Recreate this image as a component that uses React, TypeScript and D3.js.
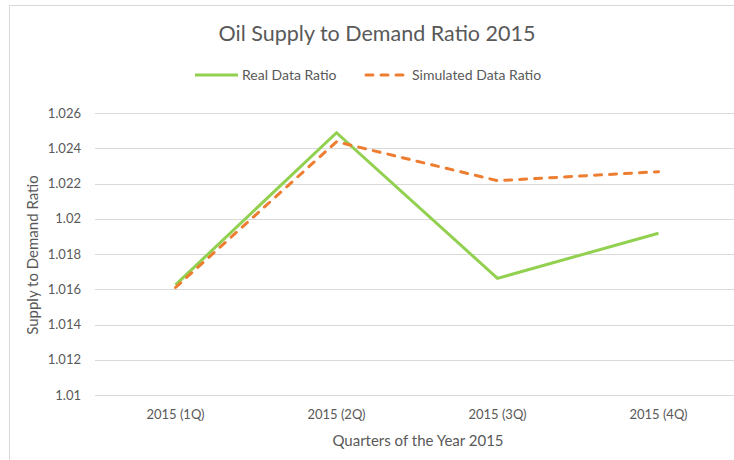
import React from 'react';
import * as d3 from 'd3';

const quarters = ['2015 (1Q)', '2015 (2Q)', '2015 (3Q)', '2015 (4Q)'];
const realRatio = [1.01625, 1.02488, 1.01662, 1.01918];
const simulatedRatio = [1.0161, 1.02437, 1.02216, 1.02267];
const yTicks = [1.01, 1.012, 1.014, 1.016, 1.018, 1.02, 1.022, 1.024, 1.026];
const yTickLabels = ['1.01', '1.012', '1.014', '1.016', '1.018', '1.02', '1.022', '1.024', '1.026'];

const W = 734;
const H = 460;
const font = 'Lato, "Open Sans", sans-serif';
const textColor = '#595959';
const green = '#92d050';
const orange = '#ed7d31';

const App = () => {
    // plot area: the right edge runs past the picture, like the original crop
    const x = d3.scalePoint<string>().domain(quarters).range([95, 739]).padding(0.5);
    const y = d3.scaleLinear().domain([1.01, 1.026]).range([395, 113]);

    const line = d3.line<number>()
        .x((d, i) => x(quarters[i]) as number)
        .y(d => y(d));

    return (
        <svg width={W} height={H} style={{position: 'absolute', left: 0, top: 0}} fontFamily={font}>
            <rect x={0} y={0} width={W} height={H} fill="#fff"/>
            {/* chart frame */}
            <path d={`M9.5,${H} V5.5 H${W}`} fill="none" stroke="#d9d9d9" strokeWidth={1}/>

            <text x={377} y={41} textAnchor="middle" fontSize={21.5} fill={textColor}>
                Oil Supply to Demand Ratio 2015
            </text>

            {/* legend */}
            <line x1={195} x2={238} y1={75} y2={75} stroke={green} strokeWidth={3}/>
            <text x={242} y={80} fontSize={14} fill={textColor}>Real Data Ratio</text>
            <line x1={366} x2={404} y1={75} y2={75} stroke={orange} strokeWidth={3}
                  strokeDasharray="7 8" strokeLinecap="round"/>
            <text x={412} y={80} fontSize={14} fill={textColor}>Simulated Data Ratio</text>

            {/* grid + y labels */}
            {yTicks.map((t, i) => (
                <g key={t}>
                    <line x1={95} x2={W} y1={Math.round(y(t)) + 0.5} y2={Math.round(y(t)) + 0.5}
                          stroke="#d9d9d9" strokeWidth={1}/>
                    <text x={81} y={y(t) + 4.5} textAnchor="end" fontSize={13} fill={textColor}>
                        {yTickLabels[i]}
                    </text>
                </g>
            ))}

            {/* x labels */}
            {quarters.map(q => (
                <text key={q} x={x(q)} y={419} textAnchor="middle" fontSize={13} fill={textColor}>{q}</text>
            ))}

            <text x={418} y={446} textAnchor="middle" fontSize={15} fill={textColor}>
                Quarters of the Year 2015
            </text>
            <text transform="translate(38,255) rotate(-90)" textAnchor="middle" fontSize={15} fill={textColor}>
                Supply to Demand Ratio
            </text>

            <path d={line(realRatio) || ''} fill="none" stroke={green} strokeWidth={3} strokeLinejoin="miter"/>
            <path d={line(simulatedRatio) || ''} fill="none" stroke={orange} strokeWidth={3}
                  strokeDasharray="7 8" strokeLinecap="round" strokeLinejoin="round"/>
        </svg>
    );
};

export default App;
